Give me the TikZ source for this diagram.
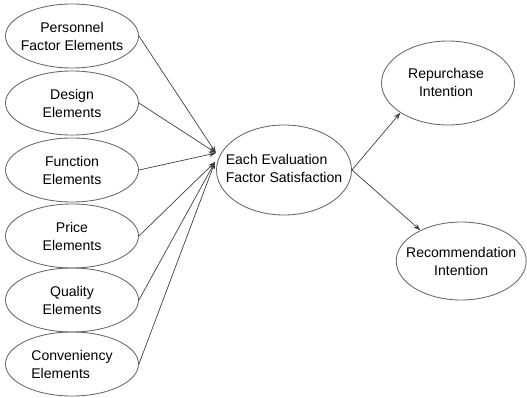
\documentclass[tikz,border=0pt]{standalone}
\usepackage{fontspec}
\setmainfont{Liberation Sans}
\usetikzlibrary{shapes.geometric,arrows.meta}

\begin{document}
\begin{tikzpicture}[
  font=\fontsize{10}{12.8}\selectfont,
  factor/.style={ellipse, draw=black!60, line width=0.6pt,
    minimum width=3.325cm, minimum height=1.6cm, inner sep=0pt},
  tag/.style={inner sep=0pt, align=center},
  link/.style={draw=black!75, line width=0.5pt,
    -{Stealth[length=5pt,width=3.6pt]}},
]

% frame = 527x397 px, 40px = 1cm, origin top left
\useasboundingbox (0,0) rectangle (13.175,-9.925);

% ── LEFT FACTORS (x=1.8, pitch ~1.65) ───────────────────────────────────
\node[factor] (pers) at (1.8,-0.9)   {};
\node[factor] (desg) at (1.8,-2.575) {};
\node[factor] (func) at (1.8,-4.25)  {};
\node[factor] (pric) at (1.8,-5.9)   {};
\node[factor] (qual) at (1.8,-7.5)   {};
\node[factor] (conv) at (1.8,-9.1)   {};

\node[tag] (pers-t) at (pers) {Personnel\\Factor Elements};
\node[tag] (desg-t) at (desg) {Design\\Elements};
\node[tag] (func-t) at (func) {Function\\Elements};
\node[tag] (pric-t) at (pric) {Price\\Elements};
\node[tag] (qual-t) at (qual) {Quality\\Elements};
\node[tag, align=left] (conv-t) at (conv) {Conveniency\\Elements};

% ── CENTRE ──────────────────────────────────────────────────────────────
\node[factor, minimum width=3.375cm, minimum height=2.25cm]
  (sat) at (7.1,-4.25) {};
\node[tag, align=left] (sat-t) at (7.1,-4.2) {Each Evaluation\\Factor Satisfaction};

% ── OUTCOMES ────────────────────────────────────────────────────────────
\node[factor, minimum height=2.1cm]                      (rep) at (11.2,-2.075) {};
\node[factor, minimum width=3.25cm, minimum height=1.95cm] (rec) at (11.53,-6.525) {};

\node[tag] (rep-t) at (11.15,-2.05) {Repurchase\\Intention};
\node[tag] (rec-t) at (rec) {Recommendation\\Intention};

% tips stop just short of the centre ellipse
\coordinate (tipa) at (5.4,-3.825);
\coordinate (tipb) at (5.375,-4.05);

\draw[link] (pers.east) -- (tipa);
\draw[link] (desg.east) -- (tipa);
\draw[link] (func.east) -- (tipa);
\draw[link] (pric.east) -- (tipb);
\draw[link] (qual.east) -- (tipb);
\draw[link] (conv.east) -- (tipb);

\draw[link] (sat.east) -- (rep.212);
\draw[link] (sat.east) -- (rec.143);

\end{tikzpicture}
\end{document}
